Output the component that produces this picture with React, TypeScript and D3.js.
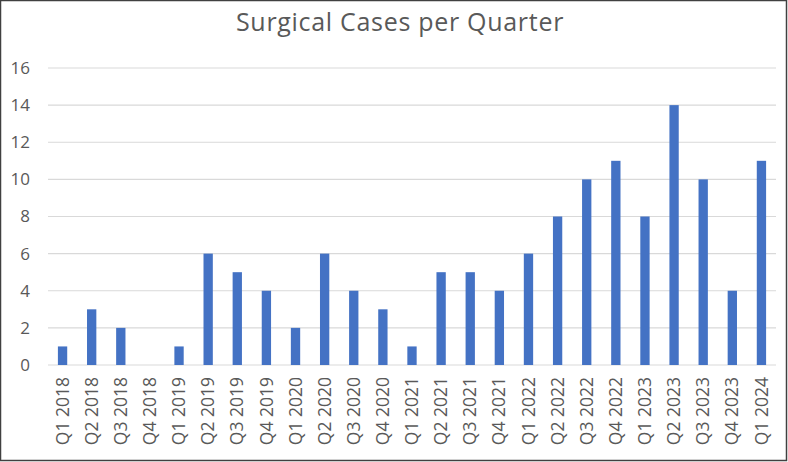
import React from 'react';
import * as d3 from 'd3';

const quarters = [
  'Q1 2018', 'Q2 2018', 'Q3 2018', 'Q4 2018',
  'Q1 2019', 'Q2 2019', 'Q3 2019', 'Q4 2019',
  'Q1 2020', 'Q2 2020', 'Q3 2020', 'Q4 2020',
  'Q1 2021', 'Q2 2021', 'Q3 2021', 'Q4 2021',
  'Q1 2022', 'Q2 2022', 'Q3 2022', 'Q4 2022',
  'Q1 2023', 'Q2 2023', 'Q3 2023', 'Q4 2023',
  'Q1 2024',
];
const cases = [1, 3, 2, 0, 1, 6, 5, 4, 2, 6, 4, 3, 1, 5, 5, 4, 6, 8, 10, 11, 8, 14, 10, 4, 11];
const yTicks = [0, 2, 4, 6, 8, 10, 12, 14, 16];

const width = 788;
const height = 462;
const margin = { top: 68, right: 12, bottom: 97, left: 48 };
const font = '"Open Sans", sans-serif';
const textColor = '#595959';

const App = () => {
  const x = d3.scaleBand()
    .domain(quarters)
    .range([margin.left, width - margin.right])
    .paddingInner(0.68)
    .paddingOuter(0.34);

  const y = d3.scaleLinear()
    .domain([0, 16])
    .range([height - margin.bottom, margin.top]);

  return (
    <svg width={width} height={height} style={{ position: 'absolute', left: 0, top: 0 }}>
      <rect x={0.5} y={0.5} width={786} height={460} fill='#fff' stroke='#404040' strokeWidth={1.5} />
      <text x={400} y={31} textAnchor='middle' fill={textColor}
        style={{ fontFamily: font, fontSize: '25px', letterSpacing: '0.7px' }}>
        Surgical Cases per Quarter
      </text>
      {yTicks.map(t => (
        <g key={t}>
          <line x1={margin.left} x2={width - margin.right} y1={y(t)} y2={y(t)} stroke='#d9d9d9' strokeWidth={1.2} />
          <text x={30} y={y(t)} dy='0.35em' textAnchor='end' fill={textColor}
            style={{ fontFamily: font, fontSize: '17px' }}>{t}</text>
        </g>
      ))}
      {cases.map((v, i) => (
        <rect key={quarters[i]} x={x(quarters[i])} y={y(v)} width={x.bandwidth()}
          height={y(0) - y(v)} fill='#4472C4' />
      ))}
      {quarters.map(q => {
        const cx = x(q) + x.bandwidth() / 2;
        const ty = y(0) + 12;
        return (
          <text key={q} transform={`translate(${cx},${ty}) rotate(-90)`} textAnchor='end' dy='0.35em'
            fill={textColor} style={{ fontFamily: font, fontSize: '17.5px' }}>{q}</text>
        );
      })}
    </svg>
  );
};

export default App;
